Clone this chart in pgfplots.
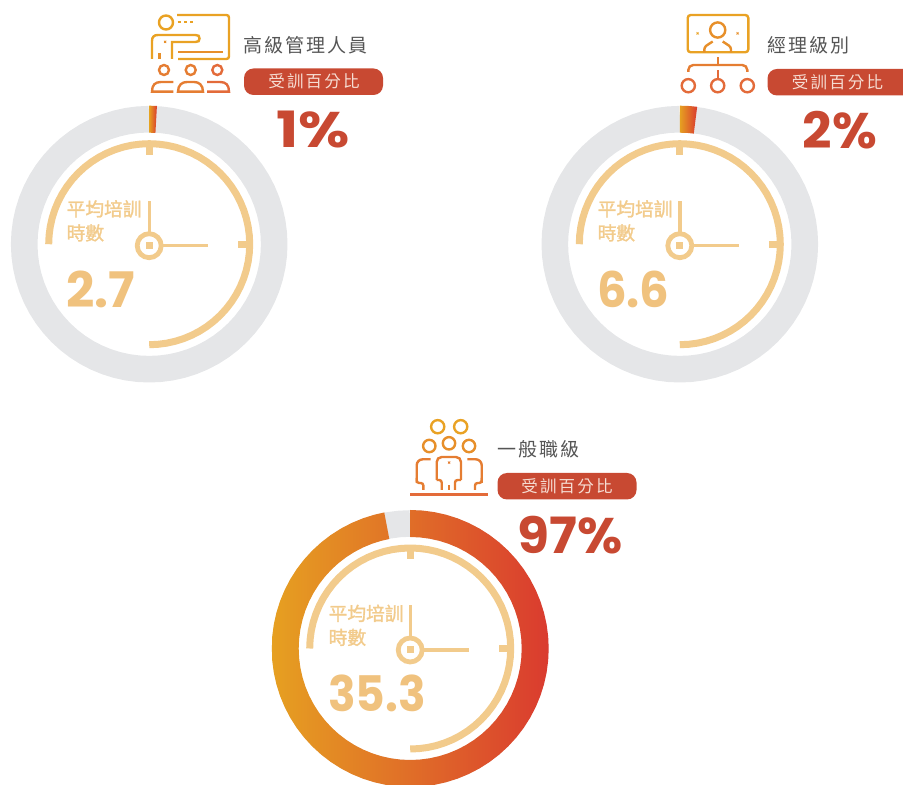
\documentclass[border=0pt]{standalone}
\usepackage{fontspec}
\usepackage{graphicx}
\usepackage{pgfplots}
\usepackage{pgfplotstable}
\pgfplotsset{compat=1.18}
\setmainfont{Noto Sans CJK TC}
\newfontfamily\cjk{Noto Sans CJK TC}[LetterSpace=11]
\newfontfamily\cjkp{Noto Sans CJK TC}[LetterSpace=13]
\newfontfamily\cjkb{Noto Sans CJK TC}[FakeBold=1.6]
\newfontfamily\pop{Poppins}
\definecolor{ringgrey}{HTML}{E5E6E8}
\definecolor{gold}{HTML}{F2CB8C}
\definecolor{numgold}{HTML}{F0C27E}
\definecolor{brick}{HTML}{C84932}
\definecolor{gy}{HTML}{E6A021}
\definecolor{gm}{HTML}{E07A2F}
\definecolor{gr}{HTML}{DA3B2F}
\definecolor{icoA}{HTML}{E9A224}
\definecolor{icoB}{HTML}{E78F2A}
\definecolor{icoC}{HTML}{E57D32}
\definecolor{icoD}{HTML}{E36B3A}
\definecolor{lab}{HTML}{555555}
\definecolor{pilltext}{HTML}{F6DDD3}

\pgfplotstableread{
t r
90 125
85 125
80 125
75 125
70 125
65 125
60 125
55 125
50 125
45 125
40 125
35 125
30 125
25 125
20 125
15 125
10 125
5 125
0 125
-5 125
-10 125
-15 125
-20 125
-25 125
-30 125
-35 125
-40 125
-45 125
-50 125
-55 125
-60 125
-65 125
-70 125
-75 125
-80 125
-85 125
-90 125
-95 125
-100 125
-105 125
-110 125
-115 125
-120 125
-125 125
-130 125
-135 125
-140 125
-145 125
-150 125
-155 125
-160 125
-165 125
-170 125
-175 125
-180 125
-185 125
-190 125
-195 125
-200 125
-205 125
-210 125
-215 125
-220 125
-225 125
-230 125
-235 125
-240 125
-245 125
-250 125
-255 125
-260 125
-265 125
-270 125
}\ringtable

\pgfplotstableread{
t r
180 100.5
175 100.5
170 100.5
165 100.5
160 100.5
155 100.5
150 100.5
145 100.5
140 100.5
135 100.5
130 100.5
125 100.5
120 100.5
115 100.5
110 100.5
105 100.5
100 100.5
95 100.5
90 100.5
85 100.5
80 100.5
75 100.5
70 100.5
65 100.5
60 100.5
55 100.5
50 100.5
45 100.5
40 100.5
35 100.5
30 100.5
25 100.5
20 100.5
15 100.5
10 100.5
5 100.5
0 100.5
-5 100.5
-10 100.5
-15 100.5
-20 100.5
-25 100.5
-30 100.5
-35 100.5
-40 100.5
-45 100.5
-50 100.5
-55 100.5
-60 100.5
-65 100.5
-70 100.5
-75 100.5
-80 100.5
-85 100.5
-90 100.5
}\arctable

\pgfplotstableread{
t r
90 138.5
86.8 138.5
86.8 111.5
90 111.5
90 138.5
}\valueA

\pgfplotstableread{
t r
90 138.5
86 138.5
82.8 138.5
82.8 111.5
86 111.5
90 111.5
90 138.5
}\valueB

\pgfplotstableread{
t r
90 138.5
85 138.5
80 138.5
75 138.5
70 138.5
65 138.5
60 138.5
55 138.5
50 138.5
45 138.5
40 138.5
35 138.5
30 138.5
25 138.5
20 138.5
15 138.5
10 138.5
5 138.5
0 138.5
-5 138.5
-10 138.5
-15 138.5
-20 138.5
-25 138.5
-30 138.5
-35 138.5
-40 138.5
-45 138.5
-50 138.5
-55 138.5
-60 138.5
-65 138.5
-70 138.5
-75 138.5
-80 138.5
-85 138.5
-90 138.5
-95 138.5
-100 138.5
-105 138.5
-110 138.5
-115 138.5
-120 138.5
-125 138.5
-130 138.5
-135 138.5
-140 138.5
-145 138.5
-150 138.5
-155 138.5
-160 138.5
-165 138.5
-170 138.5
-175 138.5
-180 138.3
-185 138.5
-190 138.5
-195 138.5
-200 138.5
-205 138.5
-210 138.5
-215 138.5
-220 138.5
-225 138.5
-230 138.5
-235 138.5
-240 138.5
-245 138.5
-250 138.5
-255 138.5
-259.2 138.5
-259.2 111.5
-255 111.5
-250 111.5
-245 111.5
-240 111.5
-235 111.5
-230 111.5
-225 111.5
-220 111.5
-215 111.5
-210 111.5
-205 111.5
-200 111.5
-195 111.5
-190 111.5
-185 111.5
-180 111.5
-175 111.5
-170 111.5
-165 111.5
-160 111.5
-155 111.5
-150 111.5
-145 111.5
-140 111.5
-135 111.5
-130 111.5
-125 111.5
-120 111.5
-115 111.5
-110 111.5
-105 111.5
-100 111.5
-95 111.5
-90 111.5
-85 111.5
-80 111.5
-75 111.5
-70 111.5
-65 111.5
-60 111.5
-55 111.5
-50 111.5
-45 111.5
-40 111.5
-35 111.5
-30 111.5
-25 111.5
-20 111.5
-15 111.5
-10 111.5
-5 111.5
0 111.5
5 111.5
10 111.5
15 111.5
20 111.5
25 111.5
30 111.5
35 111.5
40 111.5
45 111.5
50 111.5
55 111.5
60 111.5
65 111.5
70 111.5
75 111.5
80 111.5
85 111.5
90 111.5
90 138.5
}\valueC

% #1 x centre, #2 y centre (from the bottom), #3 value table
\newcommand\donut[3]{%
\begin{axis}[at={(#1pt,#2pt)},anchor=center,hide axis,scale only axis,
  width=300pt,height=300pt,xmin=-150,xmax=150,ymin=-150,ymax=150,clip=false]
\addplot[data cs=polar,no markers,color=ringgrey,line width=26.6pt,line join=round] table[x=t,y=r] {\ringtable};
\addplot[data cs=polar,no markers,draw=none,left color=gy,middle color=gm,right color=gr] table[x=t,y=r] {#3};
\addplot[data cs=polar,no markers,color=gold,line width=7pt,line join=round] table[x=t,y=r] {\arctable};
\addplot[no markers,color=gold,line width=7pt] coordinates {(0,103) (0,89)};
\addplot[no markers,color=gold,line width=7pt] coordinates {(89,0) (103,0)};
\addplot[no markers,color=gold,line width=3.4pt] coordinates {(0,-1.5) (0,43)};
\addplot[no markers,color=gold,line width=3.4pt] coordinates {(0,-1.5) (59,-1.5)};
\addplot[only marks,mark=*,mark size=12pt,mark options={draw=gold,fill=white,line width=4.8pt}] coordinates {(0,-1.5)};
\addplot[only marks,mark=square*,mark size=3pt,mark options={draw=gold,fill=gold,line width=0pt}] coordinates {(0,-1.5)};
\end{axis}}

% #1 hub x, #2 hub y, #3 value, #4 horizontal scale
\newcommand\clocktext[4]{%
\node[anchor=base west,inner sep=0pt,text=gold] at (#1-83.5,#2-29.5) {\cjkb\fontsize{18.7}{18.7}\selectfont 平均培訓};
\node[anchor=base west,inner sep=0pt,text=gold] at (#1-83.5,#2-5.5) {\cjkb\fontsize{18.7}{18.7}\selectfont 時數};
\node[anchor=base west,inner sep=0pt,text=numgold] at (#1-84,#2+62) {\scalebox{#4}[1]{\pop\bfseries\fontsize{49}{49}\selectfont #3}};}

% #1 x left, #2 y top, #3 width, #4 centre of the text
\newcommand\pill[4]{%
\fill[brick,rounded corners=9.5pt] (#1,#2) rectangle (#1+#3,#2+26.5);
\node[text=pilltext,inner sep=0pt] at (#4,#2+13) {\cjkp\fontsize{16.5}{16.5}\selectfont 受訓百分比};}

\begin{document}
\begin{tikzpicture}
\clip (0,0) rectangle (903pt,785pt);
\donut{149.2}{540.8}{\valueA}
\donut{679.8}{540.8}{\valueB}
\donut{410.2}{136.5}{\valueC}
\begin{scope}[shift={(0,785pt)},x=1pt,y=-1pt,line width=2.4pt,rounded corners=2.5pt]
\clocktext{149}{245.5}{2.7}{1.01}
\clocktext{680}{245.5}{6.6}{0.95}
\clocktext{411}{650}{35.3}{0.93}
% labels
\node[anchor=west,inner sep=0pt,text=lab] at (242,45) {\cjk\fontsize{19}{19}\selectfont 高級管理人員};
\node[anchor=west,inner sep=0pt,text=lab] at (766,45) {\cjk\fontsize{19}{19}\selectfont 經理級別};
\node[anchor=west,inner sep=0pt,text=lab] at (496,449) {\cjk\fontsize{19}{19}\selectfont 一般職級};
\pill{244}{68.5}{139}{314}
\pill{767.5}{69}{150}{837.5}
\pill{497.5}{473}{139}{567}
\node[anchor=base,inner sep=0pt,text=brick] at (313.5,148) {\scalebox{1.18}[1]{\pop\bfseries\fontsize{50}{50}\selectfont 1\%}};
\node[anchor=base,inner sep=0pt,text=brick] at (840,149) {\scalebox{1.03}[1]{\pop\bfseries\fontsize{50}{50}\selectfont 2\%}};
\node[anchor=base,inner sep=0pt,text=brick] at (570,553.5) {\scalebox{1.04}[1]{\pop\bfseries\fontsize{50}{50}\selectfont 97\%}};
% icon 1
\draw[icoA] (166,22.5) circle (7);
\draw[icoA] (177.5,22)--(181,22) (184,22)--(187,22) (190,22)--(193,22);
\draw[icoA] (177,15)--(229,15)--(229,59)--(178,59);
\draw[icoB,line width=2pt] (178,51.7)--(222.5,51.7);
\draw[icoA,sharp corners] (152,59)--(152,41) .. controls (152,37) and (154,35) .. (158,35) -- (195.5,35) .. controls (198.5,35) and (199.5,36) .. (199.5,38.5) .. controls (199.5,41) and (198.5,42) .. (195.5,42) -- (172,42) -- (172,59);
\draw[icoB] (159.5,53)--(159.5,59);
\fill[icoB] (164,41) rectangle (166,43);
\draw[icoC] (164,70) circle (5);
\draw[icoC] (190.7,70) circle (5);
\draw[icoD] (217.3,70) circle (5);
\draw[icoC,sharp corners] (173.3,82)--(161,82) .. controls (155,82) and (152,85) .. (152,91.7)--(173.3,91.7);
\draw[icoC,sharp corners] (178,91.7) .. controls (178,85) and (182,82) .. (187,82) -- (194,82) .. controls (199,82) and (203,85) .. (203,91.7) -- (178,91.7) -- cycle;
\draw[icoD,sharp corners] (207,82)--(220,82) .. controls (226,82) and (229,85) .. (229,91.7)--(207,91.7);
% icon 2
\draw[icoA,rounded corners=3pt] (687.7,15) rectangle (748.3,52.3);
\fill[icoA] (696.7,32.3) rectangle (698.7,34.3);
\fill[icoB] (736.7,32.3) rectangle (738.7,34.3);
\draw[icoB] (717.7,30) circle (7.6);
\draw[icoB] (704.3,52.3)--(704.3,47)--(712.7,41.5) (722.7,41.5)--(731,47)--(731,52.3);
\draw[icoC] (717.7,57.3)--(717.7,65);
\draw[icoC,rounded corners=5pt] (688.3,72)--(688.3,65)--(747.3,65)--(747.3,72);
\draw[icoD] (717.7,70.5)--(717.7,78);
\draw[icoD] (688.3,85.7) circle (6.6);
\draw[icoD] (717.7,85.7) circle (6.6);
\draw[icoD] (747.3,85.7) circle (6.6);
% icon 3
\draw[icoA] (437.7,426.7) circle (6.6);
\draw[icoA] (460.7,426.7) circle (6.6);
\draw[icoB] (429.3,446) circle (6.2);
\draw[icoB] (449,443.3) circle (6.2);
\draw[icoB] (469,446) circle (6.2);
\draw[icoC,rounded corners=5pt] (436.7,480)--(436.7,457)--(461,457)--(461,480);
\draw[icoC] (441.7,490)--(441.7,480)--(436.7,480) (461,480)--(455,480)--(455,490);
\draw[icoC] (449,485)--(449,490);
\fill[icoC] (448,461.7) rectangle (450,463.7);
\draw[icoC,rounded corners=6pt] (430.7,459.3)--(416.7,459.3)--(416.7,483);
\draw[icoC] (416.7,478)--(416.7,483)--(423.3,483)--(423.3,490);
\draw[icoC,rounded corners=6pt] (467.3,459.3)--(481.7,459.3)--(481.7,483);
\draw[icoC] (481.7,478)--(481.7,483)--(475,483)--(475,490);
\draw[icoD,line width=3pt,sharp corners] (410,495)--(488.3,495);
\end{scope}
\end{tikzpicture}
\end{document}
